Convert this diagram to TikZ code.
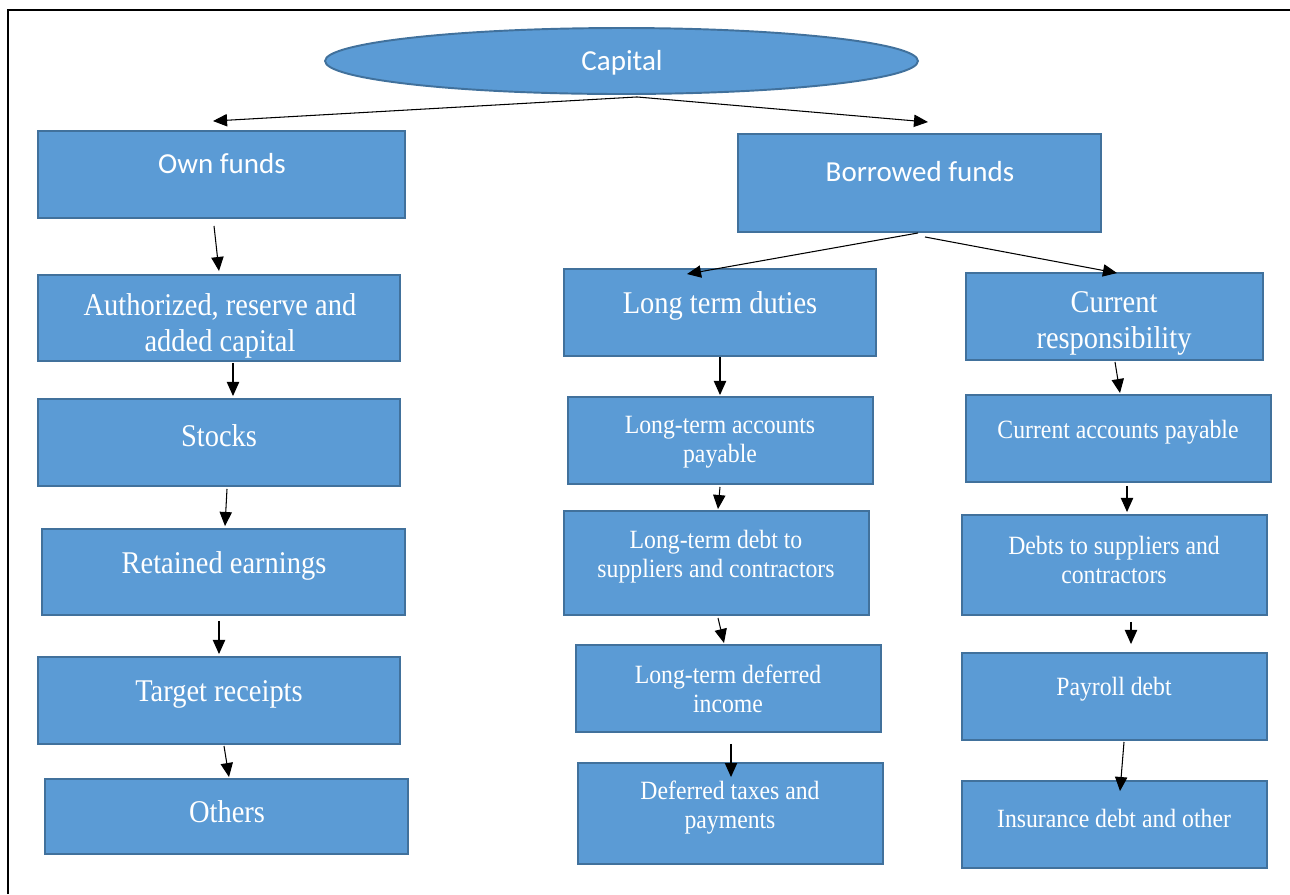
\documentclass[tikz,border=0pt]{standalone}
\usepackage{fontspec}
\usetikzlibrary{arrows.meta,shapes.geometric,fit}

\newfontfamily\calibri{Carlito}
\newfontfamily\tnr[FakeStretch=0.9]{Liberation Serif}

\definecolor{boxfill}{HTML}{5B9BD5}
\definecolor{boxedge}{HTML}{41719C}

\tikzset{
    box/.style={draw=boxedge, fill=boxfill, line width=1.1pt, inner sep=0pt},
    arr/.style={-{Triangle[length=8pt,width=7pt]}, line width=0.6pt},
    cal/.style={text=white, font=\calibri\fontsize{16.5}{20}\selectfont, align=center},
    big/.style={text=white, font=\tnr\fontsize{18}{20.5}\selectfont, align=center, yshift=-0.06cm},
    small/.style={text=white, font=\tnr\fontsize{15}{16.5}\selectfont, align=center, yshift=-0.06cm}
}

\begin{document}
\begin{tikzpicture}[x=0.02cm, y=-0.02cm]
    \useasboundingbox (0,0) rectangle (1290,894);

    % Frame
    \draw[line width=1.1pt] (8,894) -- (8,10) -- (1290,10);

    % Capital
    \node[box, ellipse, minimum width=11.86cm, minimum height=1.32cm] (cap) at (621.5,61) {};
    \node[cal] (capT) at (622,63) {Capital};

    % Own funds and its column
    \node[box, fit={(38,131) (405,218)}] (own) {};
    \node[cal] (ownT) at (222,164) {Own funds};
    \node[box, fit={(38,275) (400,361)}] (auth) {};
    \node[big] (authT) at (220,323) {Authorized, reserve and\\added capital};
    \node[box, fit={(38,399) (400,486)}] (stk) {};
    \node[big] (stkT) at (219,433) {Stocks};
    \node[box, fit={(42,529) (405,615)}] (ret) {};
    \node[big] (retT) at (224,563) {Retained earnings};
    \node[box, fit={(38,657) (400,744)}] (tgt) {};
    \node[big] (tgtT) at (219,691) {Target receipts};
    \node[box, fit={(45,779) (408,854)}] (oth) {};
    \node[big] (othT) at (227,809) {Others};

    % Borrowed funds
    \node[box, fit={(738,134) (1101,232)}] (bor) {};
    \node[cal] (borT) at (920,172) {Borrowed funds};

    % Long term duties column
    \node[box, fit={(564,269) (876,356)}] (ltd) {};
    \node[big] (ltdT) at (720,303) {Long term duties};
    \node[box, fit={(568,397) (873,484)}] (ltap) {};
    \node[small] (ltapT) at (720,439.5) {Long-term accounts\\payable};
    \node[box, fit={(564,511) (869,615)}] (ltdebt) {};
    \node[small] (ltdebtT) at (716,554) {Long-term debt to\\suppliers and contractors};
    \node[box, fit={(576,645) (881,732)}] (ltinc) {};
    \node[small] (ltincT) at (728,686) {Long-term deferred\\income};
    \node[box, fit={(578,763) (883,864)}] (dtax) {};
    \node[small] (dtaxT) at (730,805) {Deferred taxes and\\payments};

    % Current responsibility column
    \node[box, fit={(966,273) (1263,360)}] (cur) {};
    \node[big] (curT) at (1114,320.5) {Current\\responsibility};
    \node[box, fit={(966,395) (1271,482)}] (curap) {};
    \node[small] (curapT) at (1118,429) {Current accounts payable};
    \node[box, fit={(962,515) (1267,615)}] (dsup) {};
    \node[small] (dsupT) at (1114,557) {Debts to suppliers and\\contractors};
    \node[box, fit={(962,653) (1267,740)}] (pay) {};
    \node[small] (payT) at (1114,686) {Payroll debt};
    \node[box, fit={(962,781) (1267,868)}] (ins) {};
    \node[small] (insT) at (1114,815) {Insurance debt and other};

    % Arrows
    \draw[arr] ([shift={(15.5,2)}]cap.south) -- ([shift={(-8.5,-9)}]own.north);
    \draw[arr] ([shift={(15.5,2)}]cap.south) -- ([shift={(8.5,-11)}]bor.north);

    \draw[arr] ([shift={(-7.5,7)}]own.south) -- ([shift={(0,-3)}]auth.north);
    \draw[arr] ([shift={(14,1)}]auth.south) -- ([shift={(14,-2)}]stk.north);
    \draw[arr] ([shift={(8,2)}]stk.south) -- ([shift={(1.5,-2)}]ret.north);
    \draw[arr] ([shift={(-4.5,5)}]ret.south) -- ([shift={(0,-2)}]tgt.north);
    \draw[arr] ([shift={(5,1)}]tgt.south) -- ([shift={(2.5,-1)}]oth.north);

    \draw[arr] ([shift={(-1.5,0)}]bor.south) -- ([shift={(-33,6)}]ltd.north);
    \draw[arr] ([shift={(5.5,4)}]bor.south) -- ([shift={(2.5,1)}]cur.north);

    \draw[arr] (ltd.south) -- ([shift={(-0.5,-1)}]ltap.north);
    \draw[arr] ([shift={(-0.5,2)}]ltap.south) -- ([shift={(1.5,-1)}]ltdebt.north);
    \draw[arr] ([shift={(1.5,2)}]ltdebt.south) -- ([shift={(-4.5,-1)}]ltinc.north);
    \draw[arr] ([shift={(2.5,11)}]ltinc.south) -- ([shift={(0.5,15)}]dtax.north);

    \draw[arr] ([shift={(0.5,1)}]cur.south) -- ([shift={(1.5,-1)}]curap.north);
    \draw[arr] ([shift={(8.5,3)}]curap.south) -- ([shift={(12.5,-2)}]dsup.north);
    \draw[arr] ([shift={(16.5,6)}]dsup.south) -- ([shift={(16.5,-8)}]pay.north);
    \draw[arr] ([shift={(9.5,1)}]pay.south) -- ([shift={(5.5,11)}]ins.north);
\end{tikzpicture}
\end{document}
